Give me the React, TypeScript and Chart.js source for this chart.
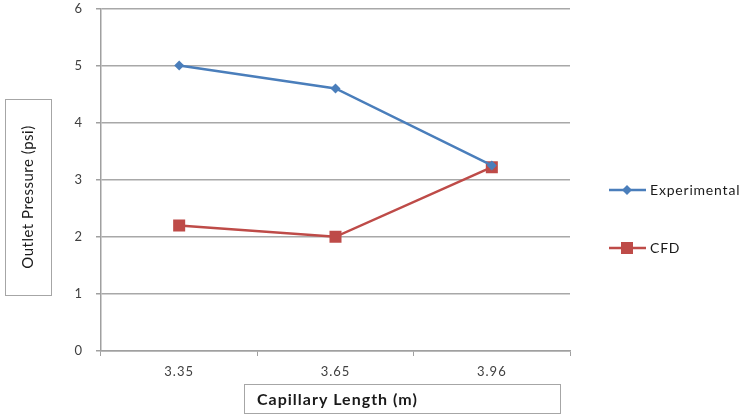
import React, { useEffect, useRef } from "react";
import { Chart, registerables } from "chart.js";

Chart.register(...registerables);

const categories = ["3.35", "3.65", "3.96"];
const experimental = [5.0, 4.6, 3.25];
const cfd = [2.2, 2.0, 3.22];
const yTicks = [0, 1, 2, 3, 4, 5, 6];
const seriesNames = ["Experimental", "CFD"];
const yTitle = "Outlet Pressure (psi)";
const xTitle = "Capillary Length (m)";

const FONT = "Lato, 'Open Sans', sans-serif";
const BLUE = "#4a7ebb";
const RED = "#be4b48";

const spacingPlugin = {
  id: "spacing",
  beforeDraw(chart: any) {
    (chart.ctx as any).letterSpacing = "1px";
  },
};

const decorPlugin = {
  id: "decor",
  afterDraw(chart: any) {
    const ctx = chart.ctx as any;
    ctx.save();
    ctx.letterSpacing = "0.5px";
    // Y title box
    ctx.strokeStyle = "#a6a6a6";
    ctx.lineWidth = 1;
    ctx.strokeRect(5.5, 99.5, 46, 196);
    ctx.fillStyle = "#1a1a1a";
    ctx.font = `15px ${FONT}`;
    ctx.textAlign = "center";
    ctx.textBaseline = "middle";
    ctx.save();
    ctx.translate(28, 197);
    ctx.rotate(-Math.PI / 2);
    ctx.fillText(yTitle, 0, 0);
    ctx.restore();
    // X title box
    ctx.strokeRect(244.5, 384.5, 316, 29);
    ctx.letterSpacing = "1px";
    ctx.font = `bold 16px ${FONT}`;
    ctx.textAlign = "left";
    ctx.fillText(xTitle, 257, 400);
    // Legend
    const items = chart.data.datasets.map((d: any, i: number) => ({
      label: d.label,
      color: d.borderColor,
      style: d.pointStyle,
      y: i === 0 ? 190 : 248,
    }));
    items.forEach((it: any) => {
      ctx.strokeStyle = it.color;
      ctx.lineWidth = 2.5;
      ctx.beginPath();
      ctx.moveTo(609, it.y);
      ctx.lineTo(646, it.y);
      ctx.stroke();
      ctx.fillStyle = it.color;
      if (it.style === "rectRot") {
        ctx.beginPath();
        ctx.moveTo(627, it.y - 5);
        ctx.lineTo(632, it.y);
        ctx.lineTo(627, it.y + 5);
        ctx.lineTo(622, it.y);
        ctx.closePath();
        ctx.fill();
      } else {
        ctx.fillRect(621, it.y - 6, 12, 12);
      }
      ctx.fillStyle = "#1a1a1a";
      ctx.font = `14px ${FONT}`;
      ctx.letterSpacing = "0.8px";
      ctx.textAlign = "left";
      ctx.textBaseline = "middle";
      ctx.fillText(it.label, 650, it.y);
    });
    ctx.restore();
  },
};

export default function App() {
  const ref = useRef<HTMLCanvasElement | null>(null);
  useEffect(() => {
    document.body.style.margin = "0";
    const c = ref.current!;
    const chart = new Chart(c, {
      type: "line",
      data: {
        labels: categories,
        datasets: [
          {
            label: seriesNames[0],
            data: experimental,
            borderColor: BLUE,
            backgroundColor: BLUE,
            borderWidth: 2.5,
            pointStyle: "rectRot",
            pointRadius: 5,
            pointBorderWidth: 0,
            tension: 0,
          },
          {
            label: seriesNames[1],
            data: cfd,
            borderColor: RED,
            backgroundColor: RED,
            borderWidth: 2.5,
            pointStyle: "rect",
            pointRadius: 8.5,
            pointBorderWidth: 0,
            tension: 0,
          },
        ],
      },
      options: {
        responsive: false,
        animation: false,
        layout: { padding: { left: 0, right: 179, top: 7, bottom: 0 } },
        plugins: { legend: { display: false }, tooltip: { enabled: false } },
        scales: {
          x: {
            type: "category",
            offset: true,
            afterFit: (s: any) => {
              s.height = 66;
              s.paddingLeft = 0;
              s.paddingRight = 0;
            },
            grid: {
              offset: true,
              drawOnChartArea: false,
              drawTicks: true,
              tickLength: 5,
              color: "#a0a0a0",
              lineWidth: 1,
            },
            border: { color: "#a0a0a0", width: 1.5 },
            ticks: {
              color: "#404040",
              font: { family: FONT, size: 13 },
              padding: 8,
            },
          },
          y: {
            min: 0,
            max: 6,
            afterFit: (s: any) => {
              s.width = 101;
              s.paddingTop = 0;
              s.paddingBottom = 0;
            },
            afterBuildTicks: (s: any) => {
              s.ticks = yTicks.map((v) => ({ value: v }));
            },
            grid: {
              color: "#a8a8a8",
              lineWidth: 1.5,
              drawTicks: true,
              tickLength: 5,
              tickColor: "#a0a0a0",
            },
            border: { color: "#a0a0a0", width: 1.5 },
            ticks: {
              color: "#404040",
              font: { family: FONT, size: 13 },
              padding: 13,
            },
          },
        },
      },
      plugins: [spacingPlugin, decorPlugin],
    });
    return () => chart.destroy();
  }, []);
  return (
    <div style={{ width: 749, height: 417, background: "#fff" }}>
      <canvas ref={ref} width={749} height={417} style={{ display: "block" }} />
    </div>
  );
}
